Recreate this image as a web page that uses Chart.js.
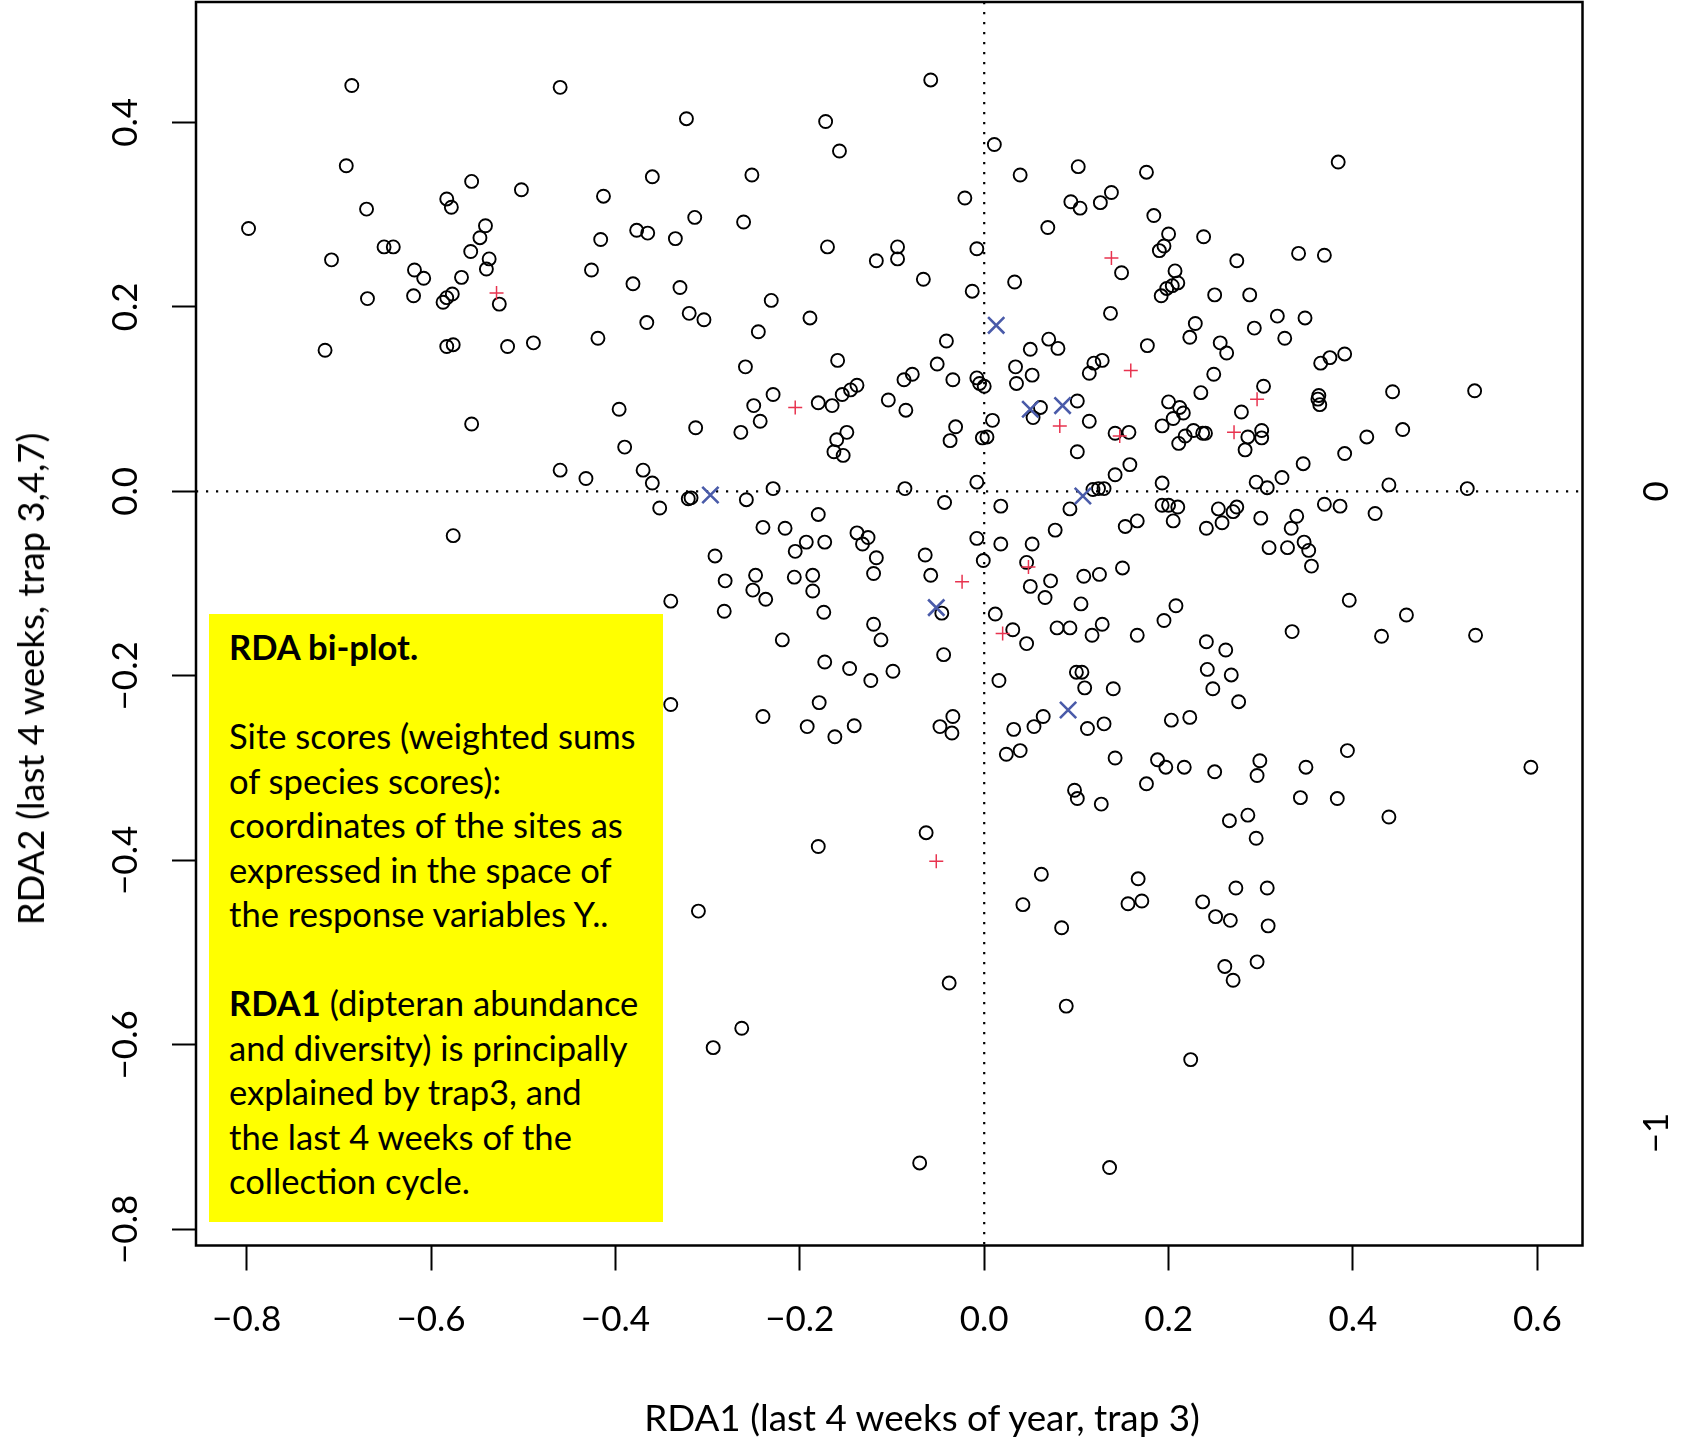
<!DOCTYPE html>
<html>
<head>
<meta charset="utf-8">
<script src="https://cdn.jsdelivr.net/npm/chart.js@4.4.1/dist/chart.umd.min.js"></script>
<style>
html,body{margin:0;padding:0;background:#fff;}
#wrap{position:relative;width:1683px;height:1440px;overflow:hidden;background:#fff;}
#c{position:absolute;left:0;top:0;}
.note{position:absolute;left:209px;top:614px;width:454px;height:608px;background:#ffff00;box-sizing:border-box;
  padding:11px 0 0 20px;font-family:Lato,"Open Sans",sans-serif;font-size:34.6px;line-height:44.5px;color:#000;white-space:pre;}
.note b{font-weight:700;}
.xtitle{position:absolute;left:922px;top:1417px;transform:translate(-50%,-50%);font-family:Lato,sans-serif;font-size:36.8px;white-space:nowrap;color:#000;}
.ytitle{position:absolute;left:30px;top:679px;transform:translate(-50%,-50%) rotate(-90deg);font-family:Lato,sans-serif;font-size:36.5px;white-space:nowrap;color:#000;}
</style>
</head>
<body>
<div id="wrap">
<canvas id="c" width="1683" height="1440" style="width:1683px;height:1440px"></canvas>
<div class="note"><b>RDA bi-plot.</b>

Site scores (weighted sums
of species scores):
coordinates of the sites as
expressed in the space of
the response variables Y..

<b>RDA1</b> (dipteran abundance
and diversity) is principally
explained by trap3, and
the last 4 weeks of the
collection cycle.</div>
<div class="xtitle">RDA1 (last 4 weeks of year, trap 3)</div>
<div class="ytitle">RDA2 (last 4 weeks, trap 3,4,7)</div>
</div>
<script>
// ---- tick values / labels ----
const xTickValues = [-0.8, -0.6, -0.4, -0.2, 0, 0.2, 0.4, 0.6];
const xTickLabels = ['\u22120.8', '\u22120.6', '\u22120.4', '\u22120.2', '0.0', '0.2', '0.4', '0.6'];
const yTickValues = [-0.8, -0.6, -0.4, -0.2, 0, 0.2, 0.4];
const yTickLabels = ['\u22120.8', '\u22120.6', '\u22120.4', '\u22120.2', '0.0', '0.2', '0.4'];
const rightTickValues = [-1, 0];
const rightTickLabels = ['\u22121', '0'];
const xRange = [-0.855, 0.649];
const yRange = [-0.8175, 0.5305];
const rightAxisFactor = 0.6955; // species-score axis unit expressed in site-score units

// ---- site scores (circles) ----
const siteX = [
-0.686,-0.460,-0.692,-0.556,-0.502,-0.583,-0.578,-0.670,-0.413,-0.360,-0.798,-0.541,-0.547,-0.377,-0.365,-0.416,-0.651,-0.641,-0.557,-0.708,-0.537,-0.540,-0.618,-0.608,-0.567,-0.426,-0.381,-0.669,-0.619,-0.577,-0.583,-0.587,-0.526,-0.366,-0.715,-0.583,-0.576,-0.517,-0.489,-0.419,-0.396,
-0.058,-0.323,-0.172,-0.157,0.011,-0.252,0.039,0.102,-0.021,-0.314,-0.261,-0.335,0.094,0.104,0.126,0.138,0.069,-0.170,-0.117,-0.094,-0.094,-0.008,-0.066,0.033,0.149,-0.330,-0.013,-0.320,-0.304,-0.231,-0.189,-0.245,0.137,-0.041,0.070,0.080,0.050,-0.259,-0.159,-0.051,0.034,0.052,0.035,0.128,0.119,0.114,-0.078,-0.087,-0.034,-0.008,-0.005,0.000,-0.229,-0.250,-0.180,-0.165,-0.154,-0.145,-0.138,-0.104,-0.085,0.061,0.101,
0.384,0.176,0.184,0.200,0.195,0.190,0.238,0.341,0.369,0.274,0.207,0.210,0.204,0.198,0.192,0.250,0.288,0.318,0.348,0.229,0.223,0.293,0.326,0.177,0.256,0.263,0.365,0.375,0.391,0.249,0.303,0.235,0.200,0.212,0.216,0.279,0.363,0.362,0.364,0.443,0.532,
-0.556,-0.390,-0.460,-0.432,-0.370,-0.360,-0.352,-0.576,
-0.313,-0.264,-0.243,-0.149,-0.160,-0.163,-0.153,-0.031,-0.037,-0.002,0.003,0.009,0.053,0.114,0.101,0.142,-0.008,-0.229,-0.086,-0.321,-0.318,-0.258,-0.043,0.018,0.093,0.118,0.124,0.130,0.142,-0.180,-0.240,-0.216,-0.138,-0.126,-0.132,-0.193,-0.173,-0.205,-0.117,-0.292,-0.064,-0.008,0.018,0.052,0.077,-0.001,0.046,0.050,0.072,0.066,0.108,0.125,-0.248,-0.281,-0.251,-0.237,-0.206,-0.186,-0.186,-0.120,-0.058,-0.340,-0.282,-0.174,-0.046,-0.120,-0.112,-0.219,0.012,0.031,0.046,0.079,0.093,0.105,0.117,0.128,-0.044,-0.173,-0.146,-0.123,-0.099,0.016,0.100,0.106,0.109,0.140,-0.340,-0.240,-0.179,-0.192,-0.162,-0.141,-0.034,-0.048,-0.035,0.032,0.054,0.064,0.112,0.130,0.142,0.024,0.039,0.098,0.101,0.127,-0.063,
0.193,0.205,0.227,0.218,0.211,0.237,0.240,0.157,0.301,0.301,0.286,0.283,0.415,0.454,0.391,0.346,0.158,0.193,0.295,0.307,0.323,0.439,0.524,0.193,0.200,0.210,0.254,0.274,0.270,0.369,0.386,0.424,0.166,0.153,0.205,0.241,0.258,0.300,0.339,0.333,0.309,0.329,0.347,0.352,0.355,0.150,0.396,0.208,0.195,0.166,0.334,0.431,0.458,0.533,0.241,0.262,0.242,0.268,0.248,0.276,0.203,0.223,0.394,0.188,0.197,0.217,0.250,0.299,0.296,0.349,0.593,0.176,0.343,0.383,0.439,0.286,0.266,0.295,
-0.180,0.062,0.042,0.084,-0.310,-0.038,0.089,-0.263,-0.294,-0.070,0.136,
0.167,0.156,0.171,0.237,0.251,0.267,0.273,0.307,0.308,0.296,0.261,0.270,0.224
];
const siteY = [
0.440,0.438,0.353,0.336,0.327,0.317,0.308,0.306,0.320,0.341,0.285,0.288,0.275,0.283,0.280,0.273,0.265,0.265,0.260,0.251,0.252,0.241,0.240,0.231,0.232,0.240,0.225,0.209,0.212,0.214,0.210,0.205,0.203,0.183,0.153,0.157,0.159,0.157,0.161,0.166,0.089,
0.446,0.404,0.401,0.369,0.376,0.343,0.343,0.352,0.318,0.297,0.292,0.274,0.314,0.307,0.313,0.324,0.286,0.265,0.250,0.265,0.252,0.263,0.230,0.227,0.237,0.221,0.217,0.193,0.186,0.207,0.188,0.173,0.193,0.163,0.165,0.155,0.154,0.135,0.142,0.138,0.135,0.126,0.117,0.142,0.139,0.128,0.127,0.121,0.121,0.123,0.117,0.114,0.105,0.093,0.096,0.093,0.105,0.110,0.115,0.099,0.088,0.091,0.098,
0.357,0.346,0.299,0.279,0.266,0.261,0.276,0.258,0.256,0.250,0.239,0.226,0.223,0.220,0.212,0.213,0.213,0.190,0.188,0.182,0.167,0.177,0.166,0.158,0.161,0.150,0.139,0.145,0.149,0.127,0.114,0.107,0.097,0.091,0.085,0.086,0.104,0.100,0.094,0.108,0.109,
0.073,0.048,0.023,0.014,0.023,0.009,-0.018,-0.048,
0.069,0.064,0.076,0.064,0.056,0.043,0.039,0.070,0.055,0.058,0.059,0.077,0.080,0.076,0.043,0.063,0.010,0.003,0.003,-0.008,-0.007,-0.009,-0.012,-0.016,-0.019,0.002,0.003,0.003,0.018,-0.025,-0.039,-0.040,-0.045,-0.050,-0.057,-0.055,-0.055,-0.065,-0.072,-0.070,-0.069,-0.051,-0.057,-0.057,-0.042,-0.075,-0.077,-0.103,-0.097,-0.115,-0.092,-0.090,-0.091,-0.097,-0.107,-0.117,-0.093,-0.091,-0.108,-0.089,-0.091,-0.119,-0.130,-0.131,-0.132,-0.144,-0.161,-0.161,-0.133,-0.150,-0.165,-0.148,-0.148,-0.122,-0.156,-0.144,-0.177,-0.185,-0.192,-0.205,-0.195,-0.205,-0.196,-0.196,-0.213,-0.214,-0.231,-0.244,-0.229,-0.255,-0.266,-0.254,-0.244,-0.255,-0.262,-0.258,-0.255,-0.244,-0.257,-0.252,-0.289,-0.285,-0.281,-0.324,-0.333,-0.339,-0.370,
0.071,0.079,0.066,0.060,0.052,0.063,0.063,0.064,0.066,0.058,0.059,0.045,0.059,0.067,0.041,0.030,0.029,0.009,0.010,0.004,0.015,0.007,0.003,-0.015,-0.015,-0.017,-0.019,-0.017,-0.022,-0.014,-0.016,-0.024,-0.032,-0.038,-0.032,-0.040,-0.034,-0.029,-0.027,-0.040,-0.061,-0.061,-0.055,-0.064,-0.081,-0.083,-0.118,-0.124,-0.140,-0.156,-0.152,-0.157,-0.134,-0.156,-0.163,-0.172,-0.193,-0.199,-0.214,-0.228,-0.248,-0.245,-0.281,-0.291,-0.299,-0.299,-0.304,-0.292,-0.308,-0.299,-0.299,-0.317,-0.332,-0.333,-0.353,-0.351,-0.357,-0.376,
-0.385,-0.415,-0.448,-0.473,-0.455,-0.533,-0.558,-0.582,-0.603,-0.728,-0.733,
-0.420,-0.447,-0.444,-0.445,-0.461,-0.465,-0.430,-0.430,-0.471,-0.510,-0.515,-0.530,-0.616
];

// ---- species scores (red +) ----
const speciesX = [-0.529, -0.205, 0.138, 0.159, 0.296, 0.082, 0.147, -0.024, 0.048, 0.020, 0.271, -0.052];
const speciesY = [0.215, 0.091, 0.253, 0.131, 0.100, 0.071, 0.060, -0.098, -0.082, -0.154, 0.064, -0.401];

// ---- centroids (blue X) ----
const centroidX = [0.013, 0.050, 0.085, -0.297, -0.052, 0.107, 0.091];
const centroidY = [0.180, 0.089, 0.093, -0.004, -0.126, -0.005, -0.237];

const toPts = (xs, ys) => xs.map((x, i) => ({x: x, y: ys[i]}));

const FONT = {family: 'Lato, "Open Sans", sans-serif', size: 35};

const framePlugin = {
  id: 'frameAndZero',
  beforeDatasetsDraw(chart) {
    const {ctx, chartArea: a, scales} = chart;
    const x0 = scales.x.getPixelForValue(0);
    const y0 = scales.y.getPixelForValue(0);
    ctx.save();
    ctx.strokeStyle = '#000';
    ctx.lineWidth = 2.2;
    ctx.setLineDash([2.2, 7.8]);
    ctx.beginPath();
    ctx.moveTo(x0, a.top); ctx.lineTo(x0, a.bottom);
    ctx.moveTo(a.left, y0); ctx.lineTo(a.right, y0);
    ctx.stroke();
    ctx.restore();
  },
  afterDraw(chart) {
    const {ctx, chartArea: a} = chart;
    ctx.save();
    ctx.strokeStyle = '#000';
    ctx.lineWidth = 2.5;
    ctx.strokeRect(a.left, a.top, a.right - a.left, a.bottom - a.top);
    ctx.restore();
  }
};

const noPad = s => { s.paddingTop = 0; s.paddingBottom = 0; s.paddingLeft = 0; s.paddingRight = 0; };

new Chart(document.getElementById('c'), {
  type: 'scatter',
  data: {
    datasets: [
      {
        label: 'centroids',
        data: toPts(centroidX, centroidY),
        pointStyle: 'crossRot',
        pointRadius: 11.5,
        pointBorderWidth: 2.6,
        pointBorderColor: '#4a5ba9',
        pointBackgroundColor: '#4a5ba9'
      },
      {
        label: 'species',
        data: toPts(speciesX, speciesY),
        pointStyle: 'cross',
        pointRadius: 7,
        pointBorderWidth: 1.5,
        pointBorderColor: '#e8334f',
        pointBackgroundColor: '#e8334f'
      },
      {
        label: 'sites',
        data: toPts(siteX, siteY),
        pointStyle: 'circle',
        pointRadius: 6.5,
        pointBorderWidth: 1.9,
        pointBorderColor: '#000',
        pointBackgroundColor: 'rgba(0,0,0,0)'
      }
    ]
  },
  options: {
    responsive: false,
    devicePixelRatio: 1,
    animation: false,
    events: [],
    layout: {autoPadding: false, padding: {top: 2, left: 0, right: 0, bottom: 0}},
    plugins: {legend: {display: false}, tooltip: {enabled: false}},
    scales: {
      x: {
        type: 'linear', position: 'bottom',
        min: xRange[0], max: xRange[1],
        afterBuildTicks: s => { s.ticks = xTickValues.map(v => ({value: v})); },
        afterFit: s => { s.height = 194.5; noPad(s); },
        ticks: {
          autoSkip: false, minRotation: 0, maxRotation: 0, padding: 28,
          color: '#000', font: FONT,
          callback: (v) => xTickLabels[xTickValues.indexOf(v)]
        },
        grid: {drawOnChartArea: false, drawTicks: true, tickLength: 25, tickWidth: 2, tickColor: '#000'},
        border: {display: false}
      },
      y: {
        type: 'linear', position: 'left',
        min: yRange[0], max: yRange[1],
        afterBuildTicks: s => { s.ticks = yTickValues.map(v => ({value: v})); },
        afterFit: s => { s.width = 196; noPad(s); },
        ticks: {
          autoSkip: false, minRotation: 90, maxRotation: 90, crossAlign: 'center', padding: 12,
          color: '#000', font: FONT,
          callback: (v) => yTickLabels[yTickValues.indexOf(v)]
        },
        grid: {drawOnChartArea: false, drawTicks: true, tickLength: 24, tickWidth: 2, tickColor: '#000'},
        border: {display: false}
      },
      y2: {
        type: 'linear', position: 'right',
        min: yRange[0] / rightAxisFactor, max: yRange[1] / rightAxisFactor,
        afterBuildTicks: s => { s.ticks = rightTickValues.map(v => ({value: v})); },
        afterFit: s => { s.width = 100.5; noPad(s); },
        ticks: {
          autoSkip: false, minRotation: 90, maxRotation: 90, crossAlign: 'center', padding: 54,
          color: '#000', font: FONT,
          callback: (v) => rightTickLabels[rightTickValues.indexOf(v)]
        },
        grid: {drawOnChartArea: false, drawTicks: false},
        border: {display: false}
      }
    }
  },
  plugins: [framePlugin]
});
</script>
</body>
</html>
